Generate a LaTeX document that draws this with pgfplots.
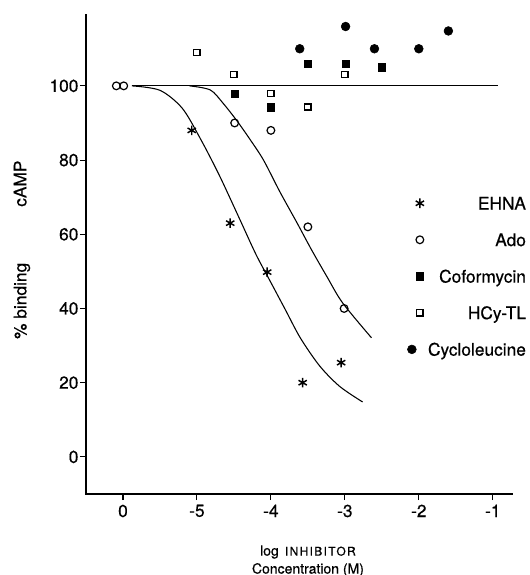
\documentclass[border=0pt]{standalone}
\usepackage{pgfplots}
\pgfplotsset{compat=1.18}
\usepackage{fontspec}
\setmainfont{TeX Gyre Heros}[FakeBold=0.5]
\newfontfamily\spaced{TeX Gyre Heros}[LetterSpace=11, FakeBold=0.5]
\pgfplotsset{
  lg/.style={legend image code/.code={\draw[##1] plot coordinates {(0pt,0pt)};}},
}
\begin{document}
\begin{tikzpicture}
\path[use as bounding box] (-64.5pt,-60.75pt) rectangle (332.25pt,370.5pt);
\begin{axis}[
  at={(0pt,0pt)}, anchor=south west,
  scale only axis, width=319.5pt, height=359.25pt,
  xmin=-6.5, xmax=-0.74, ymin=-10, ymax=119.1,
  clip=false,
  axis x line=bottom, axis y line=left,
  axis line style={draw=none},
  xtick={-6,-5,-4,-3,-2,-1}, xticklabels={0,-5,-4,-3,-2,-1},
  ytick={0,20,40,60,80,100}, yticklabels={0\hspace{11pt},20,40,60,80,100},
  tick align=outside, major tick length=4.5pt,
  tick style={line width=0.8pt, black},
  tick label style={font=\fontsize{13}{15}\selectfont},
  yticklabel style={inner xsep=1pt},
  every axis y label/.style={at={(rel axis cs:0,0.51)}, xshift=-48pt, rotate=90, anchor=center},
  ylabel={\fontsize{13}{15}\selectfont \% binding\hspace{42pt}cAMP},
  every axis x label/.style={at={(rel axis cs:0.521,0)}, anchor=north, yshift=-35pt, align=center},
  xlabel={\fontsize{10.5}{15}\selectfont log\, {\spaced\fontsize{9}{10}\selectfont INHIBITOR}\\[1.5pt]\fontsize{10.5}{15}\selectfont Concentration (M)},
  legend cell align=right,
  legend style={at={(rel axis cs:0.754,0.6206)}, anchor=north west, draw=none, fill=none,
    inner sep=0pt, row sep=18pt, column sep=3pt,
    font=\fontsize{13}{15}\selectfont,
    nodes={inner sep=0pt, text height=9.4pt, text depth=0pt}},
]
% axis lines (drawn over the full range)
\draw[line width=0.9pt, line cap=rect] (rel axis cs:0,1) -- (rel axis cs:0,0) -- (rel axis cs:1,0);
% fitted curves
\addplot[forget plot, black, line width=0.8pt] coordinates {(-5.88,100) (-0.93,100)};
\addplot[forget plot, black, line width=0.8pt, smooth] coordinates {
  (-5.88,100) (-5.5,98.8) (-5.2,94) (-4.96,86) (-4.7,76) (-4.42,64) (-4.2,54.5)
  (-4.0,47) (-3.8,39.5) (-3.6,32) (-3.34,24.5) (-3.07,19) (-2.76,14.8)};
\addplot[forget plot, black, line width=0.8pt, smooth] coordinates {
  (-5.1,100) (-4.82,98.9) (-4.65,95.4) (-4.46,90.6) (-4.28,85.5) (-4.1,80)
  (-3.88,71.5) (-3.65,63.2) (-3.45,55.8) (-3.24,48.5) (-3.03,41.5) (-2.64,32.1)};
% data
\addplot[only marks, mark=asterisk, mark size=3.6pt, mark options={line width=1.1pt, black}, lg]
  coordinates {(-5.07,88) (-4.55,63) (-4.05,49.8) (-3.57,20) (-3.05,25.4)};
\addlegendentry{EHNA}
\addplot[only marks, mark=o, mark size=2.9pt, mark options={line width=0.9pt, black}, lg]
  coordinates {(-6.09,100) (-5.99,100) (-4.49,90) (-4.0,88) (-3.5,62) (-3.01,40)};
\addlegendentry{Ado}
\addplot[only marks, mark=square*, mark size=2.7pt, mark options={line width=0.5pt, black, fill=black}, lg]
  coordinates {(-4.49,97.8) (-4.0,94.2) (-3.5,106) (-2.99,106) (-2.5,105)};
\addlegendentry{Coformycin}
\addplot[only marks, mark=square, mark size=2.3pt, mark options={line width=0.9pt, black}, lg]
  coordinates {(-5.0,109) (-4.5,103) (-4.0,98) (-3.5,94.3) (-3.0,103)};
\addlegendentry{HCy-TL}
\addplot[only marks, mark=*, mark size=3.3pt, mark options={black, fill=black}, lg,
  legend image post style={xshift=-6pt}]
  coordinates {(-3.61,110) (-2.99,116) (-2.6,110) (-2.0,110) (-1.6,114.8)};
\addlegendentry{Cycloleucine}
\end{axis}
\end{tikzpicture}
\end{document}
